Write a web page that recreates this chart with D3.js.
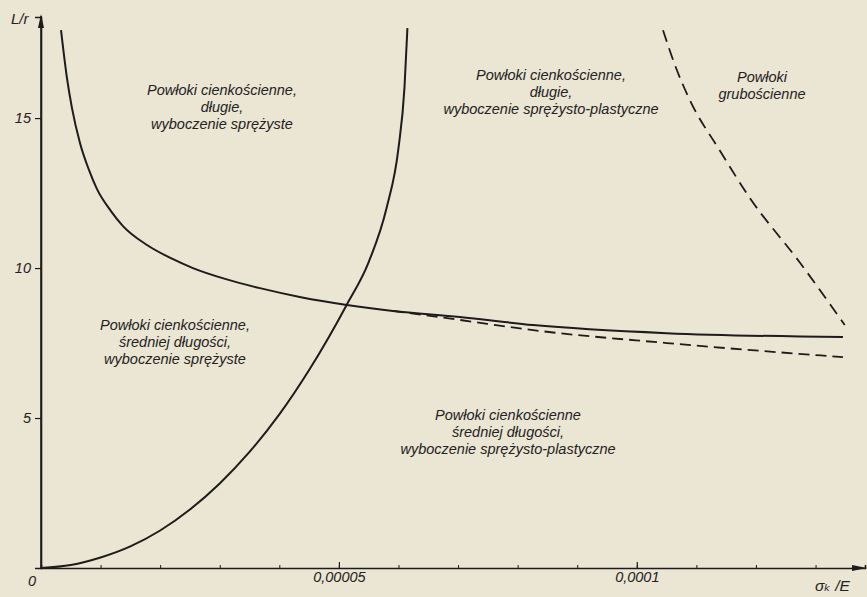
<!DOCTYPE html>
<html><head><meta charset="utf-8">
<script src="https://cdn.jsdelivr.net/npm/d3@7/dist/d3.min.js"></script>
<style>
html,body{margin:0;padding:0;background:#ebe5d3;}
svg{display:block;}
text{font-family:"Liberation Sans","DejaVu Sans",sans-serif;font-style:italic;fill:#222;}
</style></head>
<body>
<svg id="c" width="867" height="597"></svg>
<script>
// ---- data (x = sigma_k/E, y = L/r) ----
const elasticLongX = [3.36e-6,4.36e-6,5.2e-6,6.54e-6,8.05e-6,9.4e-6,1.174e-5,1.376e-5,1.779e-5,2.181e-5,2.55e-5,3.104e-5,3.674e-5,4.362e-5,5.134e-5,5.906e-5];
const elasticLongY = [17.93,16.33,15.33,14.17,13.27,12.63,11.9,11.4,10.77,10.33,10.0,9.63,9.33,9.03,8.77,8.57];
const solidTailX = [5.906e-5,7.03e-5,8.26e-5,1.05e-4,1.346e-4];
const solidTailY = [8.57,8.37,8.10,7.83,7.70];
const dashedTailX = [5.906e-5,7.03e-5,8.26e-5,1.05e-4,1.346e-4];
const dashedTailY = [8.57,8.27,7.93,7.50,7.03];
const risingX = [0,5e-6,1e-5,1.5e-5,2e-5,2.5e-5,3e-5,3.5e-5,4e-5,4.5e-5,5.13e-5,5.5e-5,5.8e-5,6.0e-5,6.1e-5,6.15e-5];
const risingY = [0,0.1,0.35,0.72,1.25,1.95,2.82,3.87,5.12,6.6,8.77,10.2,12.0,14.0,16.0,18.0];
const thickBoundX = [1.044e-4,1.064e-4,1.089e-4,1.139e-4,1.19e-4,1.273e-4,1.349e-4];
const thickBoundY = [17.93,16.77,15.6,13.93,12.33,10.2,8.1];

const yTickValues = [5,10,15];
const xMinorTicks = [1e-5,2e-5,3e-5,4e-5,5e-5,6e-5,7e-5,8e-5,9e-5,1e-4,1.1e-4,1.2e-4,1.3e-4];
const xMajorTicks = [5e-5,1e-4];
const xTickLabels = ["0,00005","0,0001"];
const yAxisTitle = "L/r";
const xAxisTitle = "σₖ /E";

const labelUpperLeft = ["Powłoki cienkościenne,","długie,","wyboczenie sprężyste"];
const labelTopMid = ["Powłoki cienkościenne,","długie,","wyboczenie sprężysto-plastyczne"];
const labelTopRight = ["Powłoki","grubościenne"];
const labelLeftMid = ["Powłoki cienkościenne,","średniej długości,","wyboczenie sprężyste"];
const labelBottom = ["Powłoki cienkościenne","średniej długości,","wyboczenie sprężysto-plastyczne"];

// ---- layout ----
const svg = d3.select("#c");
const x = d3.scaleLinear().domain([0,1.383e-4]).range([41,865]);
const y = d3.scaleLinear().domain([0,18.37]).range([568,17]);
const ink = "#1c1c1c";
const fs = 14.5;

const zip = (xs,ys)=>xs.map((v,i)=>[v,ys[i]]);
const line = d3.line().x(d=>x(d[0])).y(d=>y(d[1])).curve(d3.curveMonotoneX);

// axes
const gx = svg.append("g").attr("transform",`translate(0,${y(0)})`)
  .call(d3.axisBottom(x).tickValues(xMinorTicks).tickSize(-3).tickFormat(""));
gx.select(".domain").attr("stroke",ink).attr("stroke-width",1.6);
gx.selectAll(".tick line").attr("stroke",ink).attr("stroke-width",1);
const gxM = svg.append("g").attr("transform",`translate(0,${y(0)})`)
  .call(d3.axisBottom(x).tickValues(xMajorTicks).tickSize(-6).tickPadding(4)
    .tickFormat((d,i)=>xTickLabels[i]));
gxM.select(".domain").remove();
gxM.selectAll(".tick line").attr("stroke",ink).attr("stroke-width",1.2);
gxM.selectAll(".tick text").attr("font-size",fs).attr("font-family","Liberation Sans").attr("font-style","italic").attr("fill","#222");

const gy = svg.append("g").attr("transform",`translate(${x(0)},0)`)
  .call(d3.axisLeft(y).tickValues(yTickValues).tickSize(6).tickPadding(4));
gy.select(".domain").attr("stroke",ink).attr("stroke-width",1.6);
gy.selectAll(".tick line").attr("stroke",ink).attr("stroke-width",1.2);
gy.selectAll(".tick text").attr("font-size",fs).attr("font-family","Liberation Sans").attr("font-style","italic").attr("fill","#222");

// axis line extensions and arrows
svg.append("line").attr("x1",x(0)).attr("x2",x(0)).attr("y1",y(0)).attr("y2",16).attr("stroke",ink).attr("stroke-width",1.6);
svg.append("path").attr("d",`M${x(0)-3},28 L${x(0)},14 L${x(0)+3},28 Z`).attr("fill",ink);
svg.append("path").attr("d",`M852,${y(0)-3} L867,${y(0)} L852,${y(0)+3} Z`).attr("fill",ink);

svg.append("text").attr("x",x(0)-5).attr("y",y(0)+18).attr("text-anchor","end").attr("font-size",fs).text("0");
svg.append("text").attr("x",11).attr("y",24).attr("font-size",15).text(yAxisTitle);
svg.append("text").attr("x",815).attr("y",591).attr("font-size",15.5).text(xAxisTitle);

// curves
svg.append("path").attr("d",line(zip(elasticLongX,elasticLongY).concat(zip(solidTailX,solidTailY).slice(1))))
  .attr("fill","none").attr("stroke",ink).attr("stroke-width",2);
svg.append("path").attr("d",line(zip(dashedTailX,dashedTailY)))
  .attr("fill","none").attr("stroke",ink).attr("stroke-width",1.8).attr("stroke-dasharray","11,6");
svg.append("path").attr("d",line(zip(risingX,risingY)))
  .attr("fill","none").attr("stroke",ink).attr("stroke-width",2);
svg.append("path").attr("d",line(zip(thickBoundX,thickBoundY)))
  .attr("fill","none").attr("stroke",ink).attr("stroke-width",1.8).attr("stroke-dasharray","12,7");

// region labels
function block(lines,cx,y0,dy){
  const t = svg.append("text").attr("text-anchor","middle").attr("font-size",fs);
  lines.forEach((s,i)=>t.append("tspan").attr("x",cx).attr("y",y0+i*dy).text(s));
}
block(labelUpperLeft,222,95,17);
block(labelTopMid,551,80,17);
block(labelTopRight,762,82,17);
block(labelLeftMid,175,330,17);
block(labelBottom,508,420,17);
</script>
</body></html>
